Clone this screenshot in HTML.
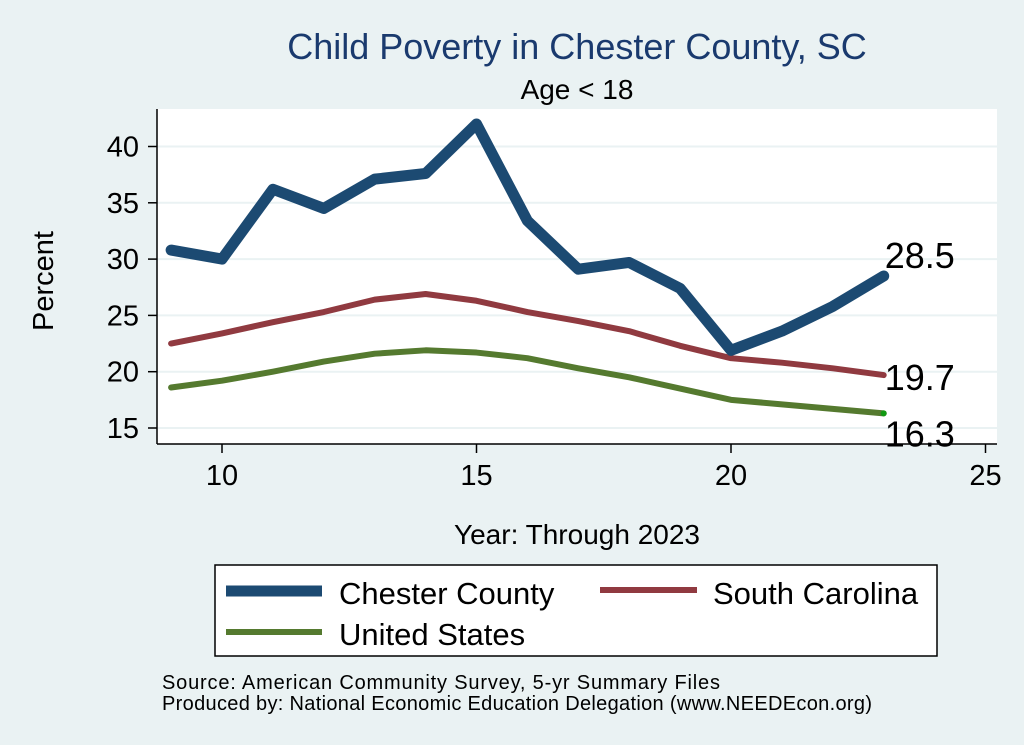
<!DOCTYPE html>
<html><head><meta charset="utf-8"><style>
body{margin:0;background:#eaf2f3;}
svg{display:block;font-family:"Liberation Sans",Arial,sans-serif;}
</style></head><body>
<svg id="chart" width="1024" height="745" viewBox="0 0 1024 745" xmlns="http://www.w3.org/2000/svg">
<rect x="0" y="0" width="1024" height="745" fill="#eaf2f3"/>
<rect x="157" y="109" width="840" height="335" fill="#ffffff"/>
<text x="577" y="59" font-size="36" fill="#1a3a6e" text-anchor="middle">Child Poverty in Chester County, SC</text>
<text x="577" y="99" font-size="28" fill="#000" text-anchor="middle">Age &lt; 18</text>
<g id="grid"></g>
<g id="series"></g>
<g id="axes"></g>
<text transform="translate(53,281) rotate(-90)" font-size="29" text-anchor="middle">Percent</text>
<text x="577" y="544" font-size="28" text-anchor="middle">Year: Through 2023</text>
<g>
<rect x="215" y="565" width="722" height="91" fill="#fff" stroke="#000" stroke-width="1.5"/>
<line x1="226" y1="591" x2="322" y2="591" stroke="#1c4a72" stroke-width="11"/>
<text x="339" y="604" font-size="31">Chester County</text>
<line x1="600" y1="590" x2="697" y2="590" stroke="#903a40" stroke-width="6"/>
<text x="713" y="604" font-size="31">South Carolina</text>
<line x1="226" y1="632" x2="322" y2="632" stroke="#557a2f" stroke-width="6"/>
<text x="339" y="645" font-size="31">United States</text>
</g>
<text x="162" y="689" font-size="20" textLength="558">Source: American Community Survey, 5-yr Summary Files</text>
<text x="162" y="710" font-size="20" textLength="710">Produced by: National Economic Education Delegation (www.NEEDEcon.org)</text>
</svg>
<script>
const years=[9,10,11,12,13,14,15,16,17,18,19,20,21,22,23];
const chester=[30.8,30.0,36.2,34.5,37.1,37.6,42.0,33.4,29.1,29.7,27.4,21.9,23.6,25.8,28.5];
const southCarolina=[22.5,23.4,24.4,25.3,26.4,26.9,26.3,25.3,24.5,23.6,22.3,21.2,20.8,20.3,19.7];
const unitedStates=[18.6,19.2,20.0,20.9,21.6,21.9,21.7,21.2,20.3,19.5,18.5,17.5,17.1,16.7,16.3];
const xTicks=[10,15,20,25];
const yTicks=[15,20,25,30,35,40];
const endLabels=["28.5","19.7","16.3"];
const NS="http://www.w3.org/2000/svg";
const X=v=>222+(v-10)*50.9;
const Y=v=>428-(v-15)*11.26;
function mk(tag,attrs,parent){const e=document.createElementNS(NS,tag);for(const k in attrs)e.setAttribute(k,attrs[k]);parent.appendChild(e);return e;}
const grid=document.getElementById('grid'),axes=document.getElementById('axes'),series=document.getElementById('series');
yTicks.forEach(t=>{
 const g=mk('line',{x1:157,x2:997,y1:Y(t),y2:Y(t),stroke:'#eaf2f3','stroke-width':2},grid);
 
 
 const tk=mk('line',{x1:148,x2:157,y1:Y(t),y2:Y(t),stroke:'#000','stroke-width':1.5},axes);
 
 
 const tx=mk('text',{x:139,y:Y(t)+10,'font-size':29,'text-anchor':'end'},axes);
 tx.textContent=t;
 
 
});
xTicks.forEach(t=>{
 const tk=mk('line',{x1:X(t),x2:X(t),y1:444,y2:453,stroke:'#000','stroke-width':1.5},axes);
 
 
 const tx=mk('text',{x:X(t),y:485,'font-size':29,'text-anchor':'middle'},axes);
 tx.textContent=t;
 
 
});
const ya=mk('line',{x1:157,x2:157,y1:109,y2:444,stroke:'#000','stroke-width':1.5},axes);


const xa=mk('line',{x1:157,x2:997,y1:444,y2:444,stroke:'#000','stroke-width':1.5},axes);


const defs=[[unitedStates,'#557a2f',6,'us'],[southCarolina,'#903a40',6,'sc'],[chester,'#1c4a72',11,'chester']];
defs.forEach(([vals,col,w,n])=>{
 const p=mk('polyline',{points:years.map((y,i)=>X(y)+','+Y(vals[i])).join(' '),fill:'none',stroke:col,'stroke-width':w,'stroke-linejoin':'round','stroke-linecap':'round'},series);
 
 
});
const last=years.length-1;
const dot=mk('circle',{cx:X(years[last]),cy:Y(unitedStates[last]),r:3,fill:'#119911'},series);


[[chester,-8,'chester'],[southCarolina,15,'sc'],[unitedStates,33,'us']].forEach(([vals,dy,n],i)=>{
 const t=mk('text',{x:X(years[last])+1,y:Y(vals[last])+dy,'font-size':36},series);
 t.textContent=endLabels[i];
 
 
});
</script>
</body></html>
